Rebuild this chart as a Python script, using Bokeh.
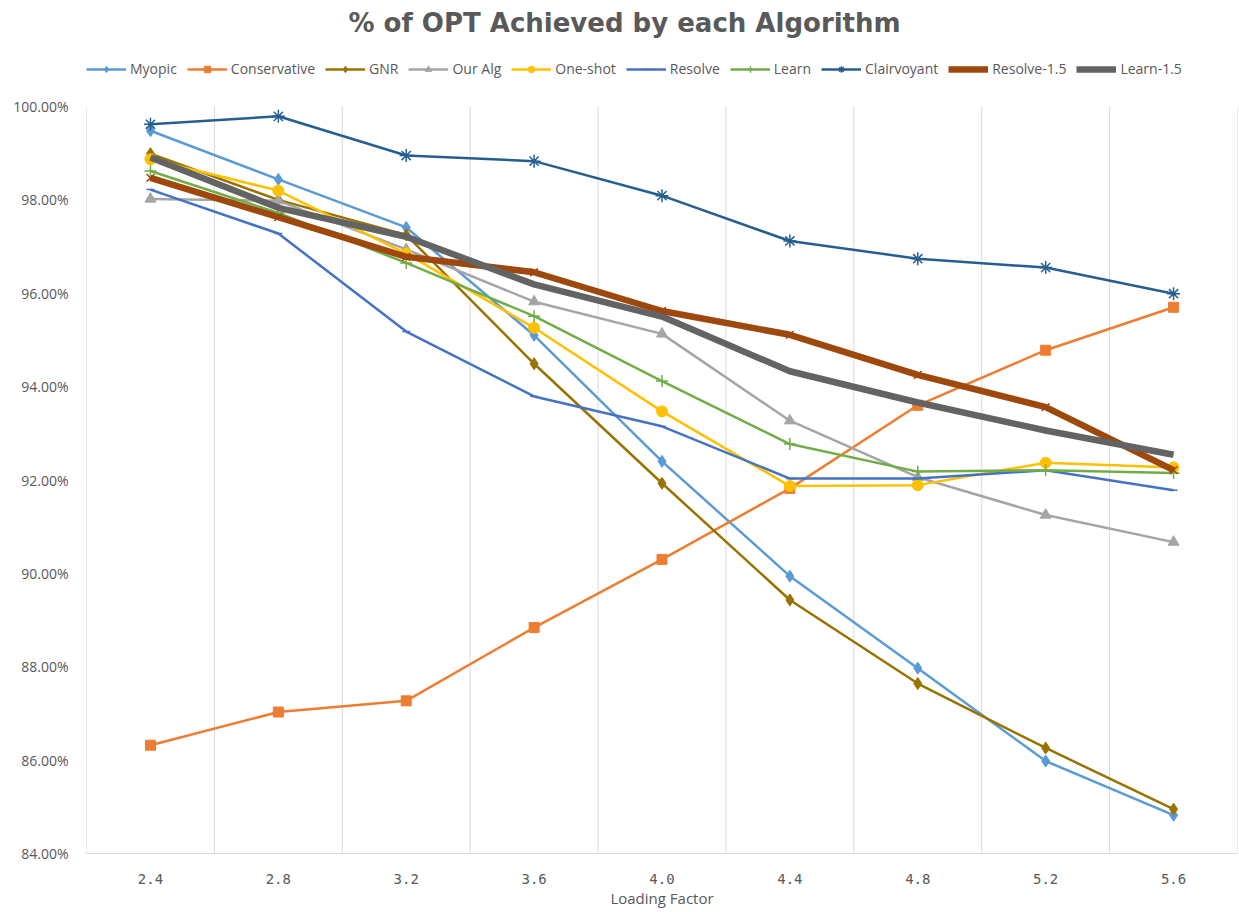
from bokeh.plotting import figure
from bokeh.models import Legend, LegendItem, FixedTicker, PrintfTickFormatter, Range1d
from bokeh.embed import file_html
from bokeh.resources import INLINE

loading = [2.4, 2.8, 3.2, 3.6, 4.0, 4.4, 4.8, 5.2, 5.6]
myopic = [99.48, 98.44, 97.41, 95.10, 92.40, 89.94, 87.97, 85.98, 84.82]
conservative = [86.32, 87.03, 87.27, 88.84, 90.30, 91.82, 93.60, 94.78, 95.70]
gnr = [98.99, 98.00, 97.25, 94.49, 91.93, 89.43, 87.64, 86.26, 84.95]
our_alg = [98.02, 97.98, 96.94, 95.82, 95.13, 93.27, 92.06, 91.25, 90.67]
one_shot = [98.87, 98.20, 96.85, 95.26, 93.47, 91.87, 91.89, 92.37, 92.27]
resolve = [98.22, 97.28, 95.18, 93.79, 93.15, 92.03, 92.03, 92.21, 91.78]
learn = [98.62, 97.72, 96.65, 95.51, 94.12, 92.77, 92.18, 92.21, 92.15]
clairvoyant = [99.62, 99.79, 98.95, 98.83, 98.09, 97.12, 96.74, 96.55, 95.99]
resolve_15 = [98.47, 97.63, 96.78, 96.45, 95.62, 95.11, 94.25, 93.56, 92.21]
learn_15 = [98.91, 97.83, 97.21, 96.19, 95.50, 94.33, 93.66, 93.06, 92.54]

y_ticks = [84, 86, 88, 90, 92, 94, 96, 98, 100]
x_bounds = [2.2, 2.6, 3.0, 3.4, 3.8, 4.2, 4.6, 5.0, 5.4, 5.8]

TXT = "#595959"
FONT = "Open Sans"

# frame extends above 100% to host the legend row (like the chart area in the original)
Y_TOP = 101.414

p = figure(width=1239, height=912, output_backend="svg", toolbar_location=None,
           x_range=Range1d(2.2, 5.8), y_range=Range1d(84, Y_TOP),
           min_border_left=86, min_border_right=2, min_border_top=40, min_border_bottom=59)
p.outline_line_color = None
p.background_fill_color = "white"

p.title.text = "% of OPT Achieved by each Algorithm"
p.title.align = "left"
p.title.offset = 262
p.title.text_font = "DejaVu Sans"
p.title.text_font_size = "26px"
p.title.text_font_style = "bold"
p.title.text_color = TXT
p.title.standoff = 6

# vertical category-boundary gridlines, only over the value span
p.xgrid.grid_line_color = None
p.ygrid.grid_line_color = None
p.segment(x0=x_bounds, y0=[y_ticks[0]] * len(x_bounds),
          x1=x_bounds, y1=[y_ticks[-1]] * len(x_bounds),
          line_color="#D9D9D9", line_width=1)

# axes
p.xaxis.ticker = FixedTicker(ticks=loading)
p.xaxis.formatter = PrintfTickFormatter(format="%.1f")
p.xaxis.major_tick_line_color = None
p.xaxis.minor_tick_line_color = None
p.xaxis.axis_line_color = "#D9D9D9"
p.xaxis.major_label_text_font = "DejaVu Sans Mono"
p.xaxis.major_label_text_font_size = "14px"
p.xaxis.major_label_text_color = TXT
p.xaxis.major_label_standoff = 14
p.xaxis.axis_label = "Loading Factor"
p.xaxis.axis_label_text_font = FONT
p.xaxis.axis_label_text_font_size = "15px"
p.xaxis.axis_label_text_font_style = "normal"
p.xaxis.axis_label_text_color = TXT
p.xaxis.axis_label_standoff = 1

p.yaxis.ticker = FixedTicker(ticks=y_ticks)
p.yaxis.formatter = PrintfTickFormatter(format="%.2f%%")
p.yaxis.major_tick_line_color = None
p.yaxis.minor_tick_line_color = None
p.yaxis.axis_line_color = None
p.yaxis.major_label_text_font = FONT
p.yaxis.major_label_text_font_size = "14px"
p.yaxis.major_label_text_color = TXT
p.yaxis.major_label_standoff = 12

series = [
    ("Myopic", myopic, "#5B9BD5", 2.5, "diamond", 12),
    ("Conservative", conservative, "#ED7D31", 2.5, "square", 10),
    ("GNR", gnr, "#997300", 2.5, "diamond", 12),
    ("Our Alg", our_alg, "#A5A5A5", 2.5, "triangle", 11),
    ("One-shot", one_shot, "#FFC000", 2.5, "circle", 11),
    ("Resolve", resolve, "#4472C4", 2.5, "dash", 8),
    ("Learn", learn, "#70AD47", 2.5, "cross", 12),
    ("Clairvoyant", clairvoyant, "#255E91", 2.5, "asterisk", 13),
    ("Resolve-1.5", resolve_15, "#9E480E", 6.5, "x", 11),
    ("Learn-1.5", learn_15, "#636363", 6.5, None, 0),
]

items = []
for name, vals, color, lw, marker, size in series:
    rs = [p.line(loading, vals, line_color=color, line_width=lw)]
    if marker is not None:
        if marker in ("cross", "asterisk", "x", "dash"):
            rs.append(p.scatter(loading, vals, marker=marker, size=size,
                                line_color=color, line_width=1.5, fill_color=color))
        else:
            rs.append(p.scatter(loading, vals, marker=marker, size=size,
                                line_color=color, fill_color=color))
    items.append(LegendItem(label=name, renderers=rs))

legend = Legend(items=items, orientation="horizontal", location=(0, 775),
                border_line_color=None, background_fill_alpha=0,
                label_text_font=FONT, label_text_font_size="14px",
                label_text_color=TXT, glyph_width=40, glyph_height=16,
                label_standoff=4, spacing=10, padding=0, margin=0)
p.add_layout(legend, "center")

open("out.html", "w").write(file_html(p, INLINE))
